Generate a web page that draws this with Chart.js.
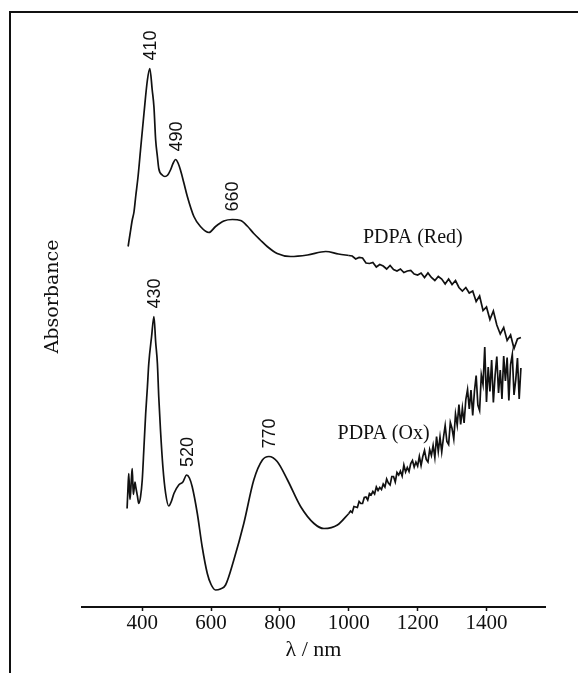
<!DOCTYPE html>
<html>
<head>
<meta charset="utf-8">
<script src="https://cdn.jsdelivr.net/npm/chart.js@4"></script>
<style>
  body { margin: 0; background: #fff; }
  canvas { display: block; }
</style>
</head>
<body>
<canvas id="spectra" width="578" height="673"></canvas>
<script>
// PDPA (Red) spectrum, wavelength in nm, absorbance in arbitrary units
const redWavelength = [359, 365, 371, 376, 381, 388, 395, 405, 415, 422, 429, 434, 439, 444, 448, 458, 466, 474, 482, 490,
  497, 504, 511, 521, 531, 550, 569, 594, 613, 637, 662, 686, 705, 724, 743, 763, 792, 831, 880, 933, 970, 1000];
const redAbsorbance = [0.721, 0.748, 0.774, 0.790, 0.821, 0.862, 0.914, 0.987, 1.054, 1.077, 1.034, 1.000, 0.934, 0.901, 0.877, 0.864, 0.861, 0.864, 0.874, 0.888,
  0.895, 0.888, 0.874, 0.848, 0.821, 0.781, 0.761, 0.749, 0.761, 0.772, 0.775, 0.773, 0.762, 0.747, 0.734, 0.721, 0.707, 0.701, 0.704, 0.711, 0.706, 0.703];
// noisy near-IR part of the Red spectrum
const redNoisyWavelength = [1010, 1020, 1030, 1040, 1050, 1060, 1070, 1080, 1090, 1100, 1110, 1120, 1130, 1140, 1150, 1160, 1170, 1180, 1190, 1200,
  1210, 1220, 1230, 1240, 1250, 1260, 1270, 1280, 1290, 1300, 1310, 1320, 1330, 1340, 1350,
  1360, 1370, 1380, 1390, 1400, 1410, 1420, 1430, 1440, 1450, 1460, 1470, 1480, 1490, 1500];
const redNoisyAbsorbance = [0.702, 0.696, 0.699, 0.698, 0.688, 0.687, 0.689, 0.680, 0.685, 0.682, 0.676, 0.683, 0.675, 0.672, 0.676, 0.669, 0.672, 0.673, 0.666, 0.664,
  0.668, 0.659, 0.668, 0.659, 0.653, 0.661, 0.656, 0.646, 0.656, 0.645, 0.653, 0.639, 0.632, 0.639, 0.628,
  0.632, 0.611, 0.622, 0.593, 0.600, 0.575, 0.592, 0.564, 0.546, 0.559, 0.533, 0.544, 0.517, 0.536, 0.539];

// PDPA (Ox) spectrum
const oxWavelength = [356, 359, 361, 364, 366, 369, 371, 374, 376, 379, 381, 386, 390, 395, 400, 405, 410, 415, 419, 427,
  434, 439, 444, 448, 453, 460, 468, 477, 485, 492, 506, 518, 529, 537, 545, 560, 574, 589, 600, 613,
  627, 642, 666, 695, 724, 749, 768, 792, 822, 860, 899, 928, 967, 1000];
const oxAbsorbance = [0.197, 0.245, 0.267, 0.215, 0.227, 0.262, 0.277, 0.225, 0.234, 0.250, 0.241, 0.222, 0.207, 0.220, 0.254, 0.320, 0.387, 0.440, 0.487, 0.540,
  0.581, 0.530, 0.487, 0.420, 0.354, 0.280, 0.227, 0.202, 0.212, 0.227, 0.244, 0.250, 0.264, 0.258, 0.241, 0.187, 0.121, 0.067, 0.045, 0.034,
  0.036, 0.044, 0.094, 0.167, 0.254, 0.294, 0.301, 0.291, 0.254, 0.201, 0.167, 0.157, 0.164, 0.187];
// noisy near-IR part of the Ox spectrum
const oxNoisyWavelength = [1005, 1010, 1015, 1020, 1025, 1030, 1035, 1040, 1045, 1050, 1055, 1060, 1065, 1070, 1075, 1080, 1085, 1090, 1095, 1100,
  1105, 1110, 1115, 1120, 1125, 1130, 1135, 1140, 1145, 1150, 1155, 1160, 1165, 1170, 1175, 1180, 1185, 1190, 1195, 1200,
  1205, 1210, 1215, 1220, 1225, 1230, 1235, 1240, 1245, 1250, 1255, 1260,
  1265, 1270, 1275, 1280, 1285, 1290, 1295, 1300, 1305, 1310, 1315, 1320, 1325, 1330, 1335, 1340, 1345, 1350,
  1355, 1360, 1365, 1370, 1375, 1380, 1385, 1390, 1395, 1400, 1405, 1410, 1415, 1420, 1425, 1430, 1435, 1440, 1445, 1450,
  1455, 1460, 1465, 1470, 1475, 1480, 1485, 1490, 1495, 1500];
const oxNoisyAbsorbance = [0.192, 0.189, 0.201, 0.200, 0.199, 0.211, 0.207, 0.207, 0.219, 0.220, 0.214, 0.227, 0.224, 0.231, 0.226, 0.240, 0.233, 0.239, 0.235, 0.246,
  0.240, 0.256, 0.248, 0.244, 0.261, 0.261, 0.250, 0.269, 0.264, 0.272, 0.262, 0.284, 0.270, 0.279, 0.271, 0.287, 0.293, 0.280, 0.290, 0.282,
  0.301, 0.283, 0.301, 0.313, 0.295, 0.290, 0.315, 0.303, 0.323, 0.299, 0.341, 0.311,
  0.340, 0.310, 0.339, 0.363, 0.331, 0.325, 0.369, 0.357, 0.336, 0.386, 0.364, 0.405, 0.365, 0.398, 0.368, 0.415, 0.435, 0.396,
  0.434, 0.383, 0.431, 0.463, 0.404, 0.393, 0.464, 0.445, 0.520, 0.410, 0.480, 0.431, 0.494, 0.409, 0.463, 0.501, 0.428, 0.474, 0.416, 0.502,
  0.452, 0.499, 0.413, 0.485, 0.505, 0.424, 0.454, 0.498, 0.416, 0.478];

const xTicks = [400, 600, 800, 1000, 1200, 1400];

// peak annotations
const peakText = ['410', '490', '660', '430', '520', '770'];
const peakWavelength = [422, 497, 662, 434, 529, 768];
const peakAbsorbance = [1.077, 0.895, 0.775, 0.581, 0.264, 0.301];

// curve names
const seriesText = ['PDPA (Red)', 'PDPA (Ox)'];
const seriesWavelength = [1186, 1101];
const seriesAbsorbance = [0.738, 0.346];

const toPoints = (xs, ys) => xs.map((x, i) => ({ x: x, y: ys[i] }));

// noisy part starts where the smooth part ends
const joinPoints = (xs, ys, nx, ny) =>
  [{ x: xs[xs.length - 1], y: ys[ys.length - 1] }].concat(toPoints(nx, ny));

const serif = 'Liberation Serif';

const annotations = {
  id: 'annotations',
  beforeDraw(chart) {
    const ctx = chart.ctx;
    ctx.save();
    ctx.strokeStyle = '#111';
    ctx.lineWidth = 2;
    ctx.beginPath();
    ctx.moveTo(10, 673);
    ctx.lineTo(10, 12);
    ctx.lineTo(578, 12);
    ctx.stroke();
    ctx.restore();
  },
  afterDatasetsDraw(chart) {
    const ctx = chart.ctx;
    const xs = chart.scales.x;
    const ys = chart.scales.y;
    const area = chart.chartArea;
    ctx.save();
    ctx.fillStyle = '#111';

    ctx.font = '18px "Liberation Sans"';
    ctx.textAlign = 'left';
    ctx.textBaseline = 'middle';
    peakText.forEach((t, i) => {
      const px = xs.getPixelForValue(peakWavelength[i]);
      const py = ys.getPixelForValue(peakAbsorbance[i]);
      ctx.save();
      ctx.translate(px + 1, py - 8);
      ctx.rotate(-Math.PI / 2);
      ctx.fillText(t, 0, 0);
      ctx.restore();
    });

    ctx.font = '20px "' + serif + '"';
    ctx.textAlign = 'center';
    seriesText.forEach((t, i) => {
      ctx.fillText(t, xs.getPixelForValue(seriesWavelength[i]), ys.getPixelForValue(seriesAbsorbance[i]));
    });

    ctx.font = '19px "DejaVu Serif"';
    ctx.save();
    ctx.translate(area.left - 29, (area.top + area.bottom) / 2 - 13);
    ctx.rotate(-Math.PI / 2);
    ctx.fillText('Absorbance', 0, 0);
    ctx.restore();

    ctx.restore();
  }
};

const smoothLine = {
  borderColor: '#111',
  borderWidth: 1.7,
  pointRadius: 0,
  cubicInterpolationMode: 'monotone',
  fill: false
};

const noisyLine = {
  borderColor: '#111',
  borderWidth: 1.7,
  pointRadius: 0,
  tension: 0,
  fill: false
};

new Chart(document.getElementById('spectra'), {
  type: 'line',
  data: {
    datasets: [
      Object.assign({ label: 'PDPA (Red)', data: toPoints(redWavelength, redAbsorbance) }, smoothLine),
      Object.assign({ label: 'PDPA (Red) NIR', data: joinPoints(redWavelength, redAbsorbance, redNoisyWavelength, redNoisyAbsorbance) }, noisyLine),
      Object.assign({ label: 'PDPA (Ox)', data: toPoints(oxWavelength, oxAbsorbance) }, smoothLine),
      Object.assign({ label: 'PDPA (Ox) NIR', data: joinPoints(oxWavelength, oxAbsorbance, oxNoisyWavelength, oxNoisyAbsorbance) }, noisyLine)
    ]
  },
  options: {
    responsive: false,
    animation: false,
    layout: {
      padding: { left: 82, right: 33, top: 12, bottom: 0 }
    },
    plugins: {
      legend: { display: false },
      tooltip: { enabled: false }
    },
    scales: {
      x: {
        type: 'linear',
        min: 225,
        max: 1570,
        afterBuildTicks: (scale) => {
          scale.ticks = xTicks.map(v => ({ value: v }));
        },
        afterFit: (scale) => {
          scale.height = 66;
        },
        border: { display: true, color: '#111', width: 2 },
        grid: { display: true, drawOnChartArea: false, tickLength: 4, color: '#111', tickWidth: 1.5 },
        ticks: {
          color: '#111',
          padding: 0,
          maxRotation: 0,
          font: { family: serif, size: 21 },
          callback: (v) => String(v)
        },
        title: {
          display: true,
          text: 'λ / nm',
          color: '#111',
          padding: { top: 0, bottom: 10 },
          font: { family: serif, size: 22 }
        }
      },
      y: {
        display: false,
        min: 0,
        max: 1.19
      }
    }
  },
  plugins: [annotations]
});
</script>
</body>
</html>
